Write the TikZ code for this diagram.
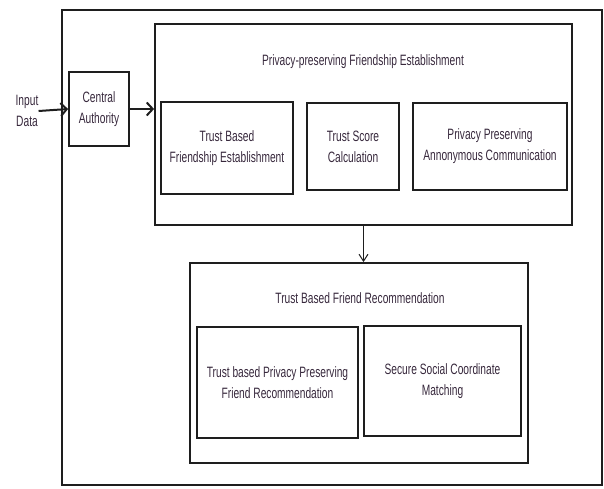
\documentclass[tikz,border=0pt]{standalone}
\usepackage{fontspec}
\setmainfont{Liberation Sans}[FakeStretch=0.68]
\usepackage{tikz}
\usetikzlibrary{arrows.meta,positioning,calc}
\definecolor{txtcol}{RGB}{55,40,60}
\definecolor{linecol}{RGB}{30,30,30}

\begin{document}
\begin{tikzpicture}[x=1pt, y=-1pt,
    box/.style={draw=linecol, line width=1.8pt, inner sep=0pt, align=center, text=txtcol,
                font=\fontsize{15}{21}\selectfont},
    frame/.style={draw=linecol, line width=1.5pt, inner sep=0pt},
    label/.style={text=txtcol, align=center, inner sep=0pt, font=\fontsize{15}{21}\selectfont},
    arrow/.style={-{Straight Barb[length=6pt, width=13pt, line width=2pt]}, line width=2pt, linecol},
    thinarrow/.style={-{Straight Barb[length=7pt, width=9pt]}, line width=1pt, linecol}
]
    \useasboundingbox (0,0) rectangle (604,488);

    % outer frame, cut at the picture's edges
    \node[frame, minimum width=540pt, minimum height=475pt] (outer) at (332,247.5) {};

    \node[label] (indata) at (27,111) {Input\\Data};
    \node[box, minimum width=60pt, minimum height=74pt] (ca) at (99,109) {Central\\Authority};

    % privacy-preserving friendship establishment
    \node[box, minimum width=417pt, minimum height=201pt] (pfe) at (363.5,124.5) {};
    \node[label] (pfetitle) at (363,62) {Privacy-preserving Friendship Establishment};
    \node[box, minimum width=132pt, minimum height=92pt] (tbfe) at (227,148) {Trust Based\\Friendship Establishment};
    \node[box, minimum width=92pt, minimum height=87pt] (tsc) at (353,146.5) {Trust Score\\Calculation};
    \node[box, minimum width=154pt, minimum height=87pt] (ppac) at (490,146.5) {Privacy Preserving\\Annonymous Communication};

    % trust based friend recommendation
    \node[box, minimum width=338pt, minimum height=200pt] (tbfr) at (359,363) {};
    \node[label] (tbfrtitle) at (360,298) {Trust Based Friend Recommendation};
    \node[box, minimum width=161pt, minimum height=111pt] (tbppfr) at (277.5,382.5) {Trust based Privacy Preserving\\Friend Recommendation};
    \node[box, minimum width=157pt, minimum height=110pt] (sscm) at (442.5,381) {Secure Social Coordinate\\Matching};

    \draw[arrow] (indata.east) -- (ca.west);
    \draw[arrow] (ca.east) -- (ca.east -| pfe.west);
    \draw[thinarrow] (pfe.south) -- (pfe.south |- tbfr.north);
\end{tikzpicture}
\end{document}
